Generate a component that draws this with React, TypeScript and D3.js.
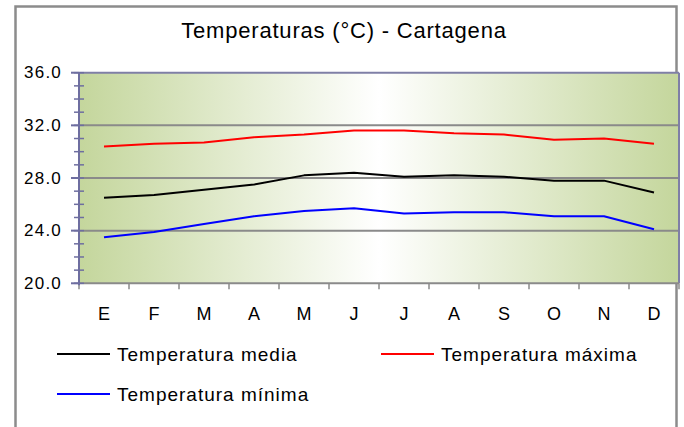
import React from "react";
import * as d3 from "d3";

const months = ["E", "F", "M", "A", "M", "J", "J", "A", "S", "O", "N", "D"];
const tempMedia = [26.5, 26.7, 27.1, 27.5, 28.2, 28.4, 28.1, 28.2, 28.1, 27.8, 27.8, 26.9];
const tempMaxima = [30.4, 30.6, 30.7, 31.1, 31.3, 31.6, 31.6, 31.4, 31.3, 30.9, 31.0, 30.6];
const tempMinima = [23.5, 23.9, 24.5, 25.1, 25.5, 25.7, 25.3, 25.4, 25.4, 25.1, 25.1, 24.1];
const yTicks = [20, 24, 28, 32, 36];
const yMinorTicks = d3.range(20, 36.01, 1);
const title = "Temperaturas (°C) - Cartagena";
const seriesNames = ["Temperatura media", "Temperatura máxima", "Temperatura mínima"];
const seriesColors = ["#000000", "#ff0000", "#0000ff"];

export default function App() {
  const W = 684, H = 427;
  const left = 79, right = 679, top = 72.7, bottom = 283.3;
  const idx = months.map((_, i) => i);
  const x = d3.scaleBand<number>().domain(idx).range([left, right]).padding(0);
  const y = d3.scaleLinear().domain([20, 36]).range([bottom, top]);
  const cx = (i: number) => (x(i) as number) + x.bandwidth() / 2;
  const line = d3.line<number>().x((_, i) => cx(i)).y((d) => y(d));
  const series = [tempMedia, tempMaxima, tempMinima];
  const font = "'Liberation Sans', Arial, sans-serif";
  const boundaries = d3.range(0, months.length + 1).map((k) => left + k * x.bandwidth());

  const legend = [
    { lx: 57, ly: 354 },
    { lx: 381, ly: 354 },
    { lx: 57, ly: 394 },
  ];

  return (
    <svg width={W} height={H} style={{ position: "absolute", left: 0, top: 0 }} xmlns="http://www.w3.org/2000/svg">
      <defs>
        <linearGradient id="bg" x1="0" x2="1" y1="0" y2="0">
          <stop offset="0" stopColor="#c4d69c" />
          <stop offset="0.5" stopColor="#ffffff" />
          <stop offset="1" stopColor="#c4d69c" />
        </linearGradient>
      </defs>
      <rect x={0} y={0} width={W} height={H} fill="#ffffff" />
      <rect x={15.5} y={6.5} width={661} height={440} fill="none" stroke="#8c8c8c" strokeWidth={2.5} />
      <text x={344} y={30} textAnchor="middle" dominantBaseline="central" fontFamily={font} fontSize={22} letterSpacing={0.8} fill="#000">
        {title}
      </text>
      <rect x={left} y={top} width={right - left} height={bottom - top} fill="url(#bg)" />
      {yTicks.filter((t) => t > 20 && t < 36).map((t) => (
        <line key={"g" + t} x1={left} x2={right} y1={y(t)} y2={y(t)} stroke="#8a8a8a" strokeWidth={2} />
      ))}
      <line x1={left} x2={right} y1={top} y2={top} stroke="#7f7fa6" strokeWidth={2} />
      <line x1={right} x2={right} y1={top} y2={bottom} stroke="#7f7fa6" strokeWidth={2} />
      <line x1={left} x2={right} y1={bottom} y2={bottom} stroke="#8a8a8a" strokeWidth={2} />
      {boundaries.map((bx, k) => (
        <line key={"xt" + k} x1={bx} x2={bx} y1={bottom} y2={bottom + 6} stroke="#8a8a8a" strokeWidth={1.5} />
      ))}
      <line x1={left} x2={left} y1={top} y2={bottom + 2} stroke="#6e6ea0" strokeWidth={2} />
      {yMinorTicks.map((t) => (
        <line key={"ym" + t} x1={left - 5} x2={left + 5} y1={y(t)} y2={y(t)} stroke="#6e6ea0" strokeWidth={1.5} />
      ))}
      {yTicks.map((t) => (
        <line key={"yt" + t} x1={left - 8} x2={left} y1={y(t)} y2={y(t)} stroke="#6e6ea0" strokeWidth={2} />
      ))}
      {yTicks.map((t) => (
        <text key={"yl" + t} x={62} y={y(t)} textAnchor="end" dominantBaseline="central" fontFamily={font} fontSize={17} letterSpacing={1.2} fill="#000">
          {t.toFixed(1)}
        </text>
      ))}
      {months.map((m, i) => (
        <text key={"xl" + i} x={cx(i)} y={314} textAnchor="middle" dominantBaseline="central" fontFamily={font} fontSize={18} fill="#000">
          {m}
        </text>
      ))}
      {series.map((s, k) => (
        <path key={"s" + k} d={line(s) as string} fill="none" stroke={seriesColors[k]} strokeWidth={2} strokeLinejoin="round" />
      ))}
      {legend.map((l, k) => (
        <g key={"lg" + k}>
          <line x1={l.lx} x2={l.lx + 53} y1={l.ly} y2={l.ly} stroke={seriesColors[k]} strokeWidth={2} />
          <text x={l.lx + 60} y={l.ly} dominantBaseline="central" fontFamily={font} fontSize={19} letterSpacing={1.0} fill="#000">
            {seriesNames[k]}
          </text>
        </g>
      ))}
    </svg>
  );
}
